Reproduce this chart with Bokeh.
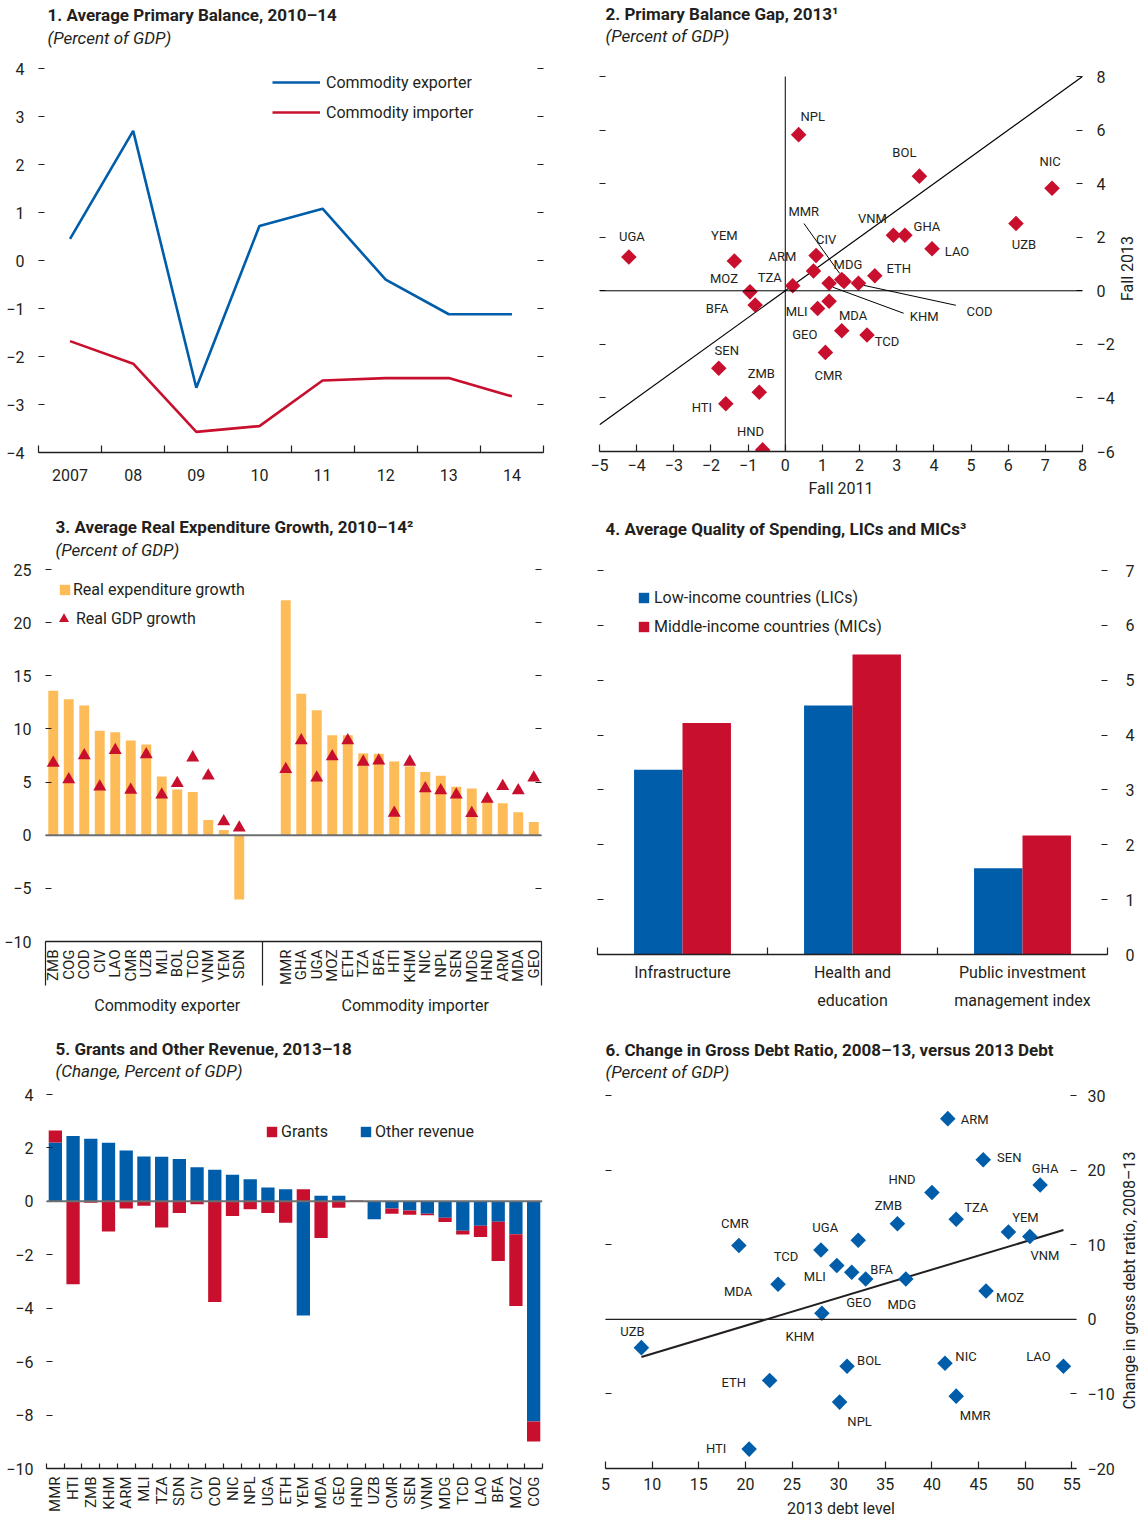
import math
import numpy as np
from bokeh.plotting import figure
from bokeh.models import (Range1d, FixedTicker, LinearAxis, Label, Span, Legend,
                          LegendItem, CustomJSTickFormatter, Plot)
from bokeh.layouts import column, row
from bokeh.embed import file_html
from bokeh.resources import INLINE
from bokeh.core.properties import value

# ---------------- data ----------------
# Panel 1
years = ["2007", "08", "09", "10", "11", "12", "13", "14"]
balance_exporter = [0.45, 2.70, -2.65, 0.72, 1.08, -0.40, -1.12, -1.12]
balance_importer = [-1.68, -2.15, -3.57, -3.45, -2.50, -2.45, -2.45, -2.83]

# Panel 2
gap_countries = ["UGA", "YEM", "MOZ", "BFA", "TZA", "ARM", "CIV", "MMR", "MDG", "KHM",
                 "COD", "MLI", "MDA", "GEO", "CMR", "TCD", "ETH", "VNM", "GHA", "LAO",
                 "BOL", "NPL", "NIC", "UZB", "HND", "SEN", "ZMB", "HTI"]
gap_fall2011 = [-4.21, -1.37, -0.95, -0.81, 0.20, 0.76, 0.83, 1.52, 1.58, 1.18,
                1.97, 0.87, 1.18, 1.52, 1.08, 2.20, 2.41, 2.91, 3.22, 3.95,
                3.61, 0.36, 7.18, 6.21, -0.61, -1.79, -0.70, -1.60]
gap_fall2013 = [1.26, 1.11, -0.04, -0.53, 0.19, 0.74, 1.32, 0.42, 0.35, 0.28,
                0.28, -0.66, -0.39, -1.49, -2.30, -1.65, 0.56, 2.07, 2.07, 1.57,
                4.28, 5.83, 3.83, 2.51, -5.94, -2.89, -3.79, -4.22]

# Panel 3
exporters = ["ZMB", "COG", "COD", "CIV", "LAO", "CMR", "UZB", "MLI", "BOL", "TCD", "VNM", "YEM", "SDN"]
exporters_exp_growth = [13.6, 12.8, 12.2, 9.84, 9.69, 8.9, 8.53, 5.53, 4.3, 4.06, 1.44, 0.5, -6.06]
exporters_gdp_growth = [6.8, 5.25, 7.5, 4.56, 8.0, 4.25, 7.6, 3.8, 4.9, 7.3, 5.6, 1.3, 0.7]
importers = ["MMR", "GHA", "UGA", "MOZ", "ETH", "TZA", "BFA", "HTI", "KHM", "NIC", "NPL",
             "SEN", "MDG", "HND", "ARM", "MDA", "GEO"]
importers_exp_growth = [22.1, 13.3, 11.75, 9.4, 9.4, 7.7, 7.66, 6.94, 6.5, 5.94, 5.6,
                        4.56, 4.4, 3.3, 3.0, 2.16, 1.25]
importers_gdp_growth = [6.2, 8.9, 5.4, 7.4, 8.9, 6.9, 7.0, 2.1, 6.9, 4.4, 4.2,
                        3.8, 2.06, 3.4, 4.6, 4.2, 5.4]
group_names = ["Commodity exporter", "Commodity importer"]

# Panel 4
quality_categories = ["Infrastructure", "Health and\neducation", "Public investment\nmanagement index"]
quality_lic = [3.37, 4.54, 1.57]
quality_mic = [4.22, 5.47, 2.17]

# Panel 5
revenue_countries = ["MMR", "HTI", "ZMB", "KHM", "ARM", "MLI", "TZA", "SDN", "CIV", "COD",
                     "NIC", "NPL", "UGA", "ETH", "YEM", "MDA", "GEO", "HND", "UZB", "CMR",
                     "SEN", "VNM", "MDG", "TCD", "LAO", "BFA", "MOZ", "COG"]
revenue_grants = [0.45, -3.1, -0.05, -1.13, -0.27, -0.16, -0.98, -0.44, -0.11, -3.77,
                  -0.55, -0.3, -0.44, -0.8, 0.45, -1.37, -0.24, 0.03, 0.0, -0.19,
                  -0.16, -0.06, -0.16, -0.14, -0.42, -1.47, -2.69, -0.75]
revenue_other = [2.2, 2.45, 2.34, 2.19, 1.9, 1.68, 1.67, 1.59, 1.28, 1.18,
                 1.0, 0.83, 0.52, 0.45, -4.27, 0.21, 0.21, 0.0, -0.67, -0.27,
                 -0.34, -0.46, -0.61, -1.1, -0.91, -0.76, -1.23, -8.24]

# Panel 6
debt_countries = ["ARM", "SEN", "GHA", "HND", "ZMB", "TZA", "YEM", "VNM", "CMR", "TCD",
                  "UGA", "MLI", "GEO", "BFA", "MDG", "MDA", "MOZ", "KHM", "UZB", "BOL",
                  "NIC", "LAO", "ETH", "MMR", "NPL", "HTI"]
debt_level_2013 = [41.7, 45.5, 51.6, 40.0, 36.3, 42.6, 48.2, 50.5, 19.3, 28.1,
                   32.1, 29.8, 31.4, 32.9, 37.2, 23.5, 45.8, 28.2, 8.85, 30.9,
                   41.4, 54.1, 22.6, 42.6, 30.1, 20.4]
debt_change = [26.9, 21.4, 18.0, 17.0, 12.8, 13.4, 11.7, 11.1, 9.9, 9.3,
               10.6, 7.2, 6.3, 5.4, 5.4, 4.7, 3.8, 0.8, -3.8, -6.3,
               -5.9, -6.3, -8.2, -10.3, -11.1, -17.4]

# ---------------- label placement (styling, screen px) ----------------
gap_label_offsets = {
    "NPL": (14, -18), "BOL": (-15, -24), "NIC": (-2, -27), "UZB": (8, 21), "UGA": (3, -21),
    "YEM": (-10, -26), "VNM": (-21, -17), "GHA": (22, -9), "LAO": (25, 3), "CIV": (10, -16),
    "ARM": (-31, -14), "TZA": (-23, -8), "MOZ": (-26, -13), "MDG": (4, -17), "ETH": (24, -7),
    "MMR": (-38, -68), "KHM": (95, 33), "COD": (121, 28), "BFA": (-38, 4), "MLI": (-21, 3),
    "MDA": (24, 14), "GEO": (-37, 4), "TCD": (20, 7), "CMR": (3, 23), "SEN": (8, -18),
    "ZMB": (2, -19), "HTI": (-24, 4), "HND": (-12, -18)}
gap_leaders = {"MMR": (-2, -6, -38, -56), "KHM": (4, 4, 75, 30), "COD": (5, 2, 98, 22)}
debt_label_offsets = {
    "ARM": (27, 1), "SEN": (26, -2), "GHA": (5, -17), "HND": (-30, -13), "ZMB": (-9, -18),
    "TZA": (20, -12), "YEM": (17, -15), "VNM": (15, 19), "CMR": (-4, -22), "TCD": (-35, 7),
    "UGA": (-33, -13), "MLI": (-22, 11), "BFA": (16, -10), "GEO": (7, 30), "MDG": (-4, 25),
    "MDA": (-40, 7), "MOZ": (24, 7), "KHM": (-22, 23), "UZB": (-9, -16), "BOL": (22, -6),
    "NIC": (21, -7), "LAO": (-25, -10), "ETH": (-36, 2), "MMR": (19, 19), "NPL": (20, 19),
    "HTI": (-33, -1)}

FONT = "Roboto"
TXT = "#231F20"
AX = "#231F20"
BLUE = "#005DAA"
RED = "#C8102E"
ORANGE = "#FDBC57"
ZERO = "#6D6E71"
FS = "16px"
TITLE_FS = "17px"
SUB_FS = "17px"

NEG_FMT = CustomJSTickFormatter(code="return (tick < 0 ? '\u2212' : '') + Math.abs(tick);")
EMPTY_FMT = CustomJSTickFormatter(code="return '';")

WL = 568
STRIP = 22
WR = 571 - STRIP
H1, H2, H3 = 505, 525, 493
HAS_FRAME_ALIGN = "frame_align" in Plot.properties()


def top_extend(v_lo, v_hi, px_lo, px_hi):
    """range end so that v_hi sits px_hi below the frame top (frame top at px 0)."""
    scale = (px_lo - px_hi) / (v_hi - v_lo)
    return v_hi + px_hi / scale


def base_fig(w, h, xr, yr, lb, rb, bb):
    kw = dict(width=w, height=h, x_range=xr, y_range=yr, output_backend="svg",
              toolbar_location=None, x_axis_location=None, y_axis_location=None,
              min_border_left=lb, min_border_right=rb, min_border_top=0, min_border_bottom=bb)
    if HAS_FRAME_ALIGN:
        kw["frame_align"] = False
    p = figure(**kw)
    p.outline_line_color = None
    p.xgrid.visible = False
    p.ygrid.visible = False
    p.background_fill_color = "white"
    p.border_fill_color = "white"
    return p


def style_labels(ax, size=FS):
    ax.major_label_text_font = FONT
    ax.major_label_text_font_size = size
    ax.major_label_text_color = TXT


def dash_axis(p, side, ticks, labels=True, standoff=12):
    ax = LinearAxis(ticker=FixedTicker(ticks=list(ticks)), formatter=NEG_FMT if labels else EMPTY_FMT)
    ax.axis_line_color = None
    ax.major_tick_in = 6
    ax.major_tick_out = 0
    ax.major_tick_line_color = AX
    ax.major_tick_line_width = 1.2
    ax.minor_tick_line_color = None
    ax.major_label_standoff = standoff
    style_labels(ax)
    p.add_layout(ax, side)
    return ax


def axis_title(ax, text, standoff):
    ax.axis_label = text
    ax.axis_label_standoff = standoff
    ax.axis_label_text_font = FONT
    ax.axis_label_text_font_size = FS
    ax.axis_label_text_font_style = "normal"
    ax.axis_label_text_color = TXT


def num_axis(p, ticks, standoff):
    ax = LinearAxis(ticker=FixedTicker(ticks=list(ticks)), formatter=NEG_FMT)
    ax.axis_line_color = AX
    ax.axis_line_width = 1.3
    ax.major_tick_in = 7
    ax.major_tick_out = 0
    ax.major_tick_line_color = AX
    ax.major_tick_line_width = 1.2
    ax.minor_tick_line_color = None
    ax.major_label_standoff = standoff
    style_labels(ax)
    p.add_layout(ax, "below")
    return ax


def cat_axis(p, centers, labels, bounds, tick_in, tick_out, standoff, size=FS,
             orientation="horizontal", line=True):
    ax = LinearAxis(ticker=FixedTicker(ticks=list(centers), minor_ticks=list(bounds)))
    ax.major_label_overrides = {c: l for c, l in zip(centers, labels)}
    ax.axis_line_color = AX if line else None
    ax.axis_line_width = 1.3
    ax.major_tick_in = 0
    ax.major_tick_out = 0
    ax.major_tick_line_color = None
    ax.minor_tick_in = tick_in
    ax.minor_tick_out = tick_out
    ax.minor_tick_line_color = AX if bounds else None
    ax.minor_tick_line_width = 1.2
    ax.major_label_standoff = standoff
    style_labels(ax, size)
    ax.major_label_text_line_height = 1.5
    ax.major_label_orientation = orientation
    p.add_layout(ax, "below")
    return ax


def add_text(p, x, y, text, size=FS, style="normal", align="left", angle=0.0):
    p.add_layout(Label(x=x, y=y, x_units="screen", y_units="screen", text=text,
                       text_font=FONT, text_font_size=size, text_font_style=style,
                       text_color=TXT, text_align=align, text_baseline="middle", angle=angle))


def legend(p, items, loc, gw, gh, standoff, spacing, orientation="vertical"):
    lg = Legend(items=items, location=loc, glyph_width=gw, glyph_height=gh,
                label_standoff=standoff, spacing=spacing, padding=0, margin=0,
                border_line_color=None, background_fill_alpha=0, orientation=orientation,
                label_text_font=FONT, label_text_font_size=FS, label_text_color=TXT)
    p.add_layout(lg)
    return lg


def title_strip(h, text, x, y):
    """Narrow figure holding a rotated right-hand axis title."""
    t = base_fig(STRIP, h, Range1d(0, 1), Range1d(0, 1), 0, 0, 0)
    add_text(t, x, y, text, align="center", angle=math.pi / 2)
    return t


# ---------------- Panel 1 ----------------
p1 = base_fig(WL, H1, Range1d(-0.5, len(years) - 0.5),
              Range1d(-4, top_extend(-4, 4, 452, 68)), 38, 25, 53)
x1 = list(range(len(years)))
r_exp = p1.line(x1, balance_exporter, line_color=BLUE, line_width=2.6)
r_imp = p1.line(x1, balance_importer, line_color=RED, line_width=2.6)
dash_axis(p1, "left", range(-4, 5), True, standoff=14)
dash_axis(p1, "right", range(-4, 5), False)
cat_axis(p1, x1, years, [i - 0.5 for i in range(len(years) + 1)], 7, 0, 16)
legend(p1, [LegendItem(label="Commodity exporter", renderers=[r_exp]),
            LegendItem(label="Commodity importer", renderers=[r_imp])],
       (234, 330), 48, 20, 6, 10)
add_text(p1, 9, 438, "1. Average Primary Balance, 2010\u201314", size=TITLE_FS, style="bold")
add_text(p1, 9, 415, "(Percent of GDP)", size=SUB_FS, style="italic")

# ---------------- Panel 2 ----------------
GX0, GX1, GY0, GY1 = -5, 8, -6, 8
p2 = base_fig(WR, H1, Range1d(GX0, GX1), Range1d(GY0, top_extend(GY0, GY1, 451, 76)), 31, 32, 54)
p2.add_layout(Span(location=0, dimension="width", line_color="black", line_width=1))
p2.segment([0], [GY0], [0], [GY1], line_color="black", line_width=1)
diag = [GX0, GX1]
p2.line(diag, diag, line_color="black", line_width=1.2)
PXX = 486 / (GX1 - GX0)
PXY = 375 / (GY1 - GY0)
lx0, ly0, lx1, ly1 = [], [], [], []
for name, (a, b, c, d) in gap_leaders.items():
    i = gap_countries.index(name)
    lx0.append(gap_fall2011[i] + a / PXX)
    ly0.append(gap_fall2013[i] - b / PXY)
    lx1.append(gap_fall2011[i] + c / PXX)
    ly1.append(gap_fall2013[i] - d / PXY)
p2.segment(lx0, ly0, lx1, ly1, line_color="black", line_width=1)
p2.scatter(gap_fall2011, gap_fall2013, marker="square", angle=math.pi / 4, size=11,
           fill_color=RED, line_color=None)
p2.text(gap_fall2011, gap_fall2013, text=gap_countries,
        x_offset=[gap_label_offsets[c][0] for c in gap_countries],
        y_offset=[gap_label_offsets[c][1] for c in gap_countries],
        text_font=value(FONT), text_font_size="13px", text_color=TXT,
        text_align="center", text_baseline="middle")
dash_axis(p2, "left", range(-6, 9, 2), False)
dash_axis(p2, "right", range(-6, 9, 2), True, standoff=14)
ax2b = num_axis(p2, range(-5, 9), 7)
axis_title(ax2b, "Fall 2011", 5)
add_text(p2, 6, 438, "2. Primary Balance Gap, 2013\u00b9", size=TITLE_FS, style="bold")
add_text(p2, 6, 416, "(Percent of GDP)", size=SUB_FS, style="italic")
t2 = title_strip(H1, "Fall 2013", 10, 237)

# ---------------- Panel 3 ----------------
x_exp = list(range(len(exporters)))
x_imp = list(range(len(exporters) + 2, len(exporters) + 2 + len(importers)))
x3 = x_exp + x_imp
p3 = base_fig(WL, H2, Range1d(-0.5, x3[-1] + 0.5),
              Range1d(-10, top_extend(-10, 25, 436, 64)), 45, 27, 89)
p3.add_layout(Span(location=0, dimension="width", line_color=ZERO, line_width=2))
r_bar = p3.vbar(x=x3, top=exporters_exp_growth + importers_exp_growth, bottom=0, width=0.64,
                fill_color=ORANGE, line_color=None)
r_tri = p3.scatter(x3, exporters_gdp_growth + importers_gdp_growth, marker="triangle", size=13,
                   fill_color=RED, line_color=None)
dash_axis(p3, "left", range(-10, 26, 5), True, standoff=14)
dash_axis(p3, "right", range(-10, 26, 5), False)
sep = (x_exp[-1] + x_imp[0]) / 2
cat_axis(p3, x3, exporters + importers, [-0.5, sep, x3[-1] + 0.5], 0, 44, -36, size="15px",
         orientation=math.pi / 2)
GROUP_SHIFT = 0.85
group_pos = [(-0.5 + sep) / 2 + GROUP_SHIFT, (sep + x3[-1] + 0.5) / 2 + GROUP_SHIFT]
cat_axis(p3, group_pos, group_names, [], 0, 0, 8, line=False)
legend(p3, [LegendItem(label="Real expenditure growth", renderers=[r_bar])], (13, 342), 13, 13, 2, 0)
legend(p3, [LegendItem(label="Real GDP growth", renderers=[r_tri])], (6, 310), 25, 25, -4, 0)
add_text(p3, 10, 415, "3. Average Real Expenditure Growth, 2010\u201314\u00b2", size=TITLE_FS, style="bold")
add_text(p3, 10, 392, "(Percent of GDP)", size=SUB_FS, style="italic")

# ---------------- Panel 4 ----------------
x4 = list(range(len(quality_categories)))
DODGE = 0.1425
p4 = base_fig(WR + STRIP, H2, Range1d(-0.5, len(x4) - 0.5),
              Range1d(0, top_extend(0, 7, 449, 65)), 29, 32, 76)
r_lic = p4.vbar(x=[c - DODGE for c in x4], top=quality_lic, width=2 * DODGE, fill_color=BLUE, line_color=None)
r_mic = p4.vbar(x=[c + DODGE for c in x4], top=quality_mic, width=2 * DODGE, fill_color=RED, line_color=None)
dash_axis(p4, "left", range(0, 8), False)
dash_axis(p4, "right", range(0, 8), True, standoff=18)
cat_axis(p4, x4, quality_categories, [i - 0.5 for i in range(len(x4) + 1)], 7, 0, 8)
legend(p4, [LegendItem(label="Low-income countries (LICs)", renderers=[r_lic]),
            LegendItem(label="Middle-income countries (MICs)", renderers=[r_mic])],
       (40, 318), 13, 13, 4, 10)
add_text(p4, 8, 426, "4. Average Quality of Spending, LICs and MICs\u00b3", size=TITLE_FS, style="bold")

# ---------------- Panel 5 ----------------
x5 = list(range(len(revenue_countries)))
p5 = base_fig(WL, H3, Range1d(-0.5, len(x5) - 0.5),
              Range1d(-10, top_extend(-10, 4, 438, 64)), 46, 26, 55)
g_base = [o if o * g > 0 else 0 for o, g in zip(revenue_other, revenue_grants)]
g_top = [b + g for b, g in zip(g_base, revenue_grants)]
r_other = p5.vbar(x=x5, top=revenue_other, bottom=0, width=0.75, fill_color=BLUE, line_color=None)
r_grants = p5.vbar(x=x5, top=g_top, bottom=g_base, width=0.75, fill_color=RED, line_color=None)
p5.add_layout(Span(location=0, dimension="width", line_color=ZERO, line_width=2))
dash_axis(p5, "left", range(-10, 5, 2), True, standoff=13)
cat_axis(p5, x5, revenue_countries, [i - 0.5 for i in range(len(x5) + 1)], 5, 0, 8, size="15px",
         orientation=math.pi / 2)
legend(p5, [LegendItem(label="Grants", renderers=[r_grants]),
            LegendItem(label="Other revenue", renderers=[r_other])],
       (219, 327), 13, 13, 3, 31, orientation="horizontal")
add_text(p5, 9, 420, "5. Grants and Other Revenue, 2013\u201318", size=TITLE_FS, style="bold")
add_text(p5, 9, 398, "(Change, Percent of GDP)", size=SUB_FS, style="italic")

# ---------------- Panel 6 ----------------
p6 = base_fig(WR, H3, Range1d(5, 55.5), Range1d(-20, top_extend(-20, 30, 438, 65)), 37, 39, 55)
p6.add_layout(Span(location=0, dimension="width", line_color="#231F20", line_width=1.2))
slope, intercept = np.polyfit(debt_level_2013, debt_change, 1)
fit_x = [min(debt_level_2013), max(debt_level_2013)]
p6.line(fit_x, [slope * v + intercept for v in fit_x], line_color="#231F20", line_width=2)
p6.scatter(debt_level_2013, debt_change, marker="square", angle=math.pi / 4, size=11,
           fill_color=BLUE, line_color=None)
p6.text(debt_level_2013, debt_change, text=debt_countries,
        x_offset=[debt_label_offsets[c][0] for c in debt_countries],
        y_offset=[debt_label_offsets[c][1] for c in debt_countries],
        text_font=value(FONT), text_font_size="13px", text_color=TXT,
        text_align="center", text_baseline="middle")
dash_axis(p6, "left", range(-20, 31, 10), False)
dash_axis(p6, "right", range(-20, 31, 10), True, standoff=11)
ax6b = num_axis(p6, range(5, 56, 5), 9)
axis_title(ax6b, "2013 debt level", 6)
add_text(p6, 0, 419, "6. Change in Gross Debt Ratio, 2008\u201313, versus 2013 Debt", size=TITLE_FS, style="bold")
add_text(p6, 0, 397, "(Percent of GDP)", size=SUB_FS, style="italic")
t6 = title_strip(H3, "Change in gross debt ratio, 2008\u201313", 12, 243)

layout = column(row(p1, p2, t2), row(p3, p4), row(p5, p6, t6))
open("out.html", "w").write(file_html(layout, INLINE))
